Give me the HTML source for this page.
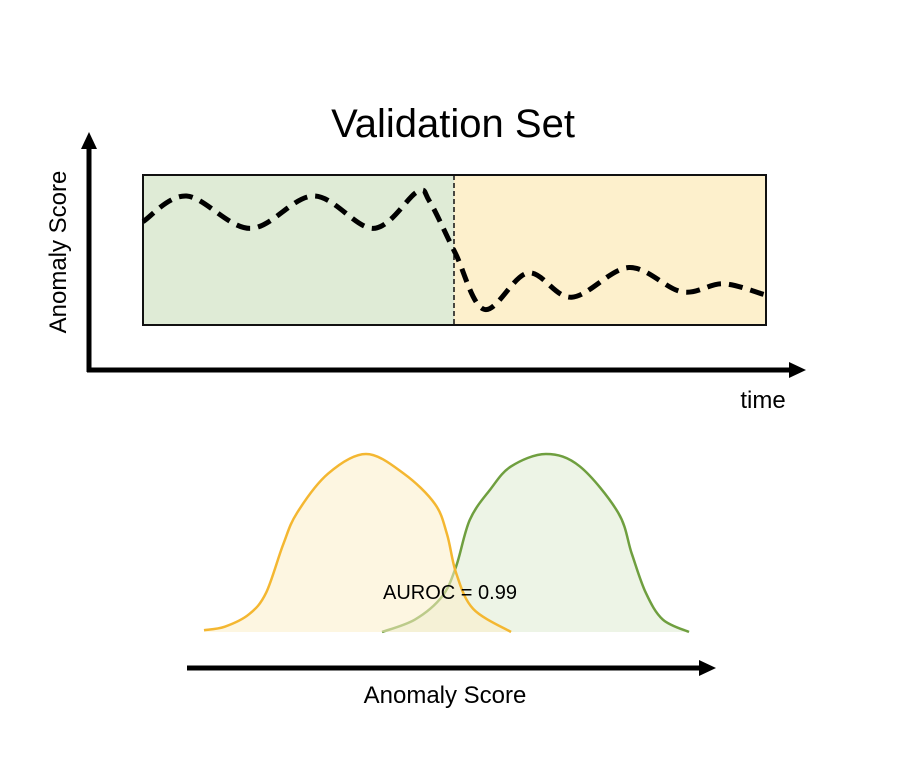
<!DOCTYPE html>
<html><head><meta charset="utf-8"><style>
html,body{margin:0;padding:0;background:#fff;}
svg{display:block;font-family:"Liberation Sans",sans-serif;}
</style></head><body>
<svg id="chart" width="916" height="764" viewBox="0 0 916 764">
<text x="453" y="137" font-size="40" text-anchor="middle">Validation Set</text>
<rect x="143" y="175" width="311" height="150" fill="#dfebd6"/>
<rect x="454" y="175" width="312" height="150" fill="#fdf0cc"/>
<rect x="143" y="175" width="623" height="150" fill="none" stroke="#111" stroke-width="2"/>
<line x1="454" y1="175" x2="454" y2="325" stroke="#111" stroke-width="1.5" stroke-dasharray="5 3"/>
<g id="topG"></g>
<line x1="89" y1="372" x2="89" y2="145" stroke="#000" stroke-width="5"/>
<polygon points="89,132 81,149 97,149" fill="#000"/>
<line x1="87" y1="370" x2="790" y2="370" stroke="#000" stroke-width="5"/>
<polygon points="806,370 789,362 789,378" fill="#000"/>
<text transform="translate(66,252) rotate(-90)" font-size="24" text-anchor="middle">Anomaly Score</text>
<text x="763" y="408" font-size="24" text-anchor="middle">time</text>
<g id="bottomG"></g>
<text x="450" y="599" font-size="20" text-anchor="middle">AUROC = 0.99</text>
<line x1="187" y1="668" x2="700" y2="668" stroke="#000" stroke-width="5"/>
<polygon points="716,668 699,660 699,676" fill="#000"/>
<text x="445" y="703" font-size="24" text-anchor="middle">Anomaly Score</text>
</svg>
<script>
const timeSteps = [0, 7, 17.2, 27.4, 37, 44, 46, 50.1, 54.8, 61.8, 68.8, 78, 86.5, 93.1, 99.7];
const scoreValues = [0.71, 0.9, 0.66, 0.9, 0.66, 0.93, 0.86, 0.48, 0.06, 0.33, 0.15, 0.37, 0.19, 0.25, 0.17];
const normalScores = [0, 4.3, 9.3, 12.8, 16.3, 19.2, 25.6, 33.4, 41.2, 47.6, 50.1, 52, 55.5, 63.3];
const normalDensity = [0.01, 0.03, 0.10, 0.22, 0.49, 0.67, 0.89, 1.0, 0.89, 0.72, 0.55, 0.33, 0.13, 0.0];
const anomalyScores = [36.7, 43.5, 49.1, 52, 54.8, 59, 63.3, 70.5, 77.5, 85.4, 88.2, 91.1, 94.6, 100];
const anomalyDensity = [0.0, 0.07, 0.20, 0.37, 0.63, 0.80, 0.93, 1.0, 0.93, 0.67, 0.44, 0.22, 0.07, 0.0];

const NS='http://www.w3.org/2000/svg';
const tx = t => 143 + t/100*623;
const ty = s => 325 - (0.05 + s*0.9)*150;
const sx = v => 204 + v/100*(689-204);
const sy = d => 632 - d*178;

function smooth(pts){
  let d = `M${pts[0][0]},${pts[0][1]}`;
  for(let i=0;i<pts.length-1;i++){
    const p0=pts[i-1]||pts[i], p1=pts[i], p2=pts[i+1], p3=pts[i+2]||p2;
    const c1=[p1[0]+(p2[0]-p0[0])/6, p1[1]+(p2[1]-p0[1])/6];
    const c2=[p2[0]-(p3[0]-p1[0])/6, p2[1]-(p3[1]-p1[1])/6];
    d += ` C${c1[0]},${c1[1]} ${c2[0]},${c2[1]} ${p2[0]},${p2[1]}`;
  }
  return d;
}

const topG = document.getElementById('topG');
const line = document.createElementNS(NS,'path');
line.setAttribute('d', smooth(timeSteps.map((t,i)=>[tx(t), ty(scoreValues[i])])));
line.setAttribute('fill','none');
line.setAttribute('stroke','#000');
line.setAttribute('stroke-width','5');
line.setAttribute('stroke-dasharray','14 8');


topG.appendChild(line);

const bottomG = document.getElementById('bottomG');
function dist(xs, ys, fill, stroke, name){
  const pts = xs.map((v,i)=>[sx(v), sy(ys[i])]);
  const d = smooth(pts);
  const area = document.createElementNS(NS,'path');
  area.setAttribute('d', d + ` L${pts[pts.length-1][0]},${sy(0)} L${pts[0][0]},${sy(0)} Z`);
  area.setAttribute('fill', fill);
  area.setAttribute('fill-opacity','0.55');
  
  
  const ln = document.createElementNS(NS,'path');
  ln.setAttribute('d', d);
  ln.setAttribute('fill','none');
  ln.setAttribute('stroke', stroke);
  ln.setAttribute('stroke-width','2.5');
  
  
  return [area, ln];
}
const [na, nl] = dist(normalScores, normalDensity, '#fbeec8', '#f4b731', 'normal-distribution');
const [aa, al] = dist(anomalyScores, anomalyDensity, '#dfebd2', '#6f9f3f', 'anomaly-distribution');
bottomG.appendChild(aa); bottomG.appendChild(al);
bottomG.appendChild(na); bottomG.appendChild(nl);
</script>
</body></html>
